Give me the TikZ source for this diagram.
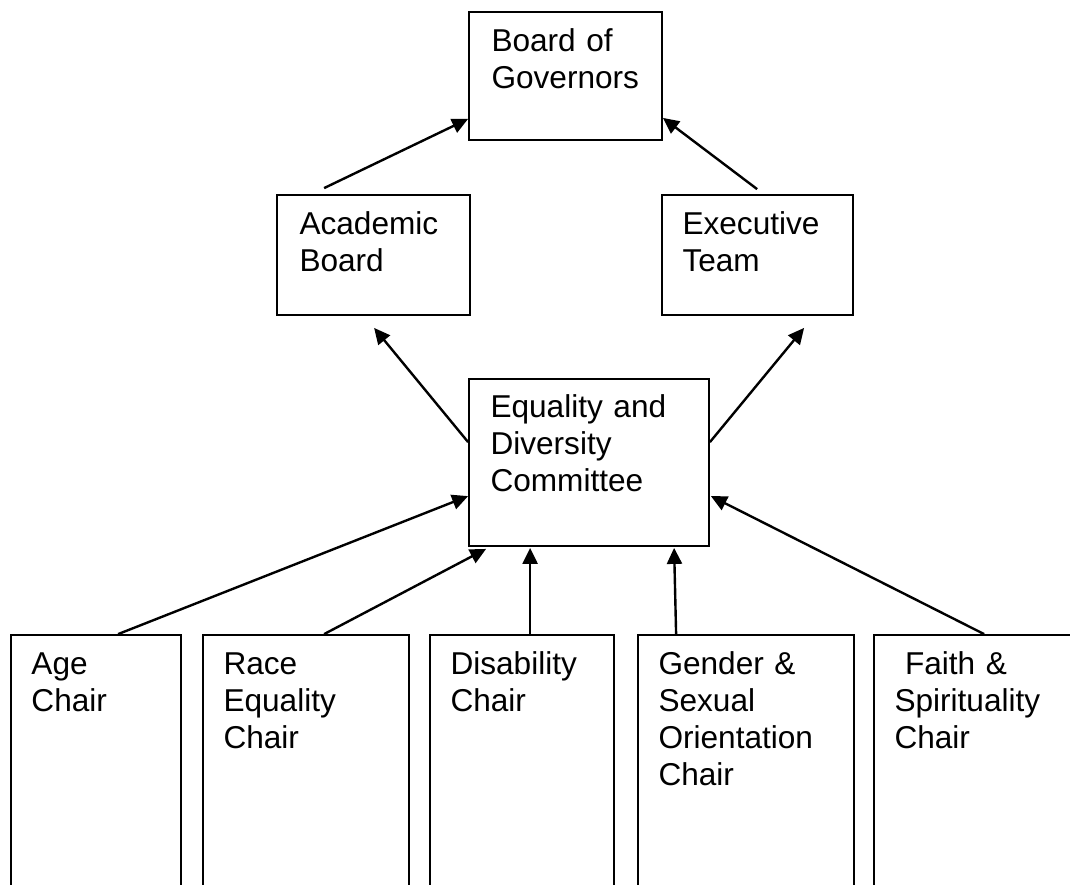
\documentclass[tikz,border=0pt]{standalone}
\usepackage{fontspec}
\setmainfont{Liberation Sans}
\usetikzlibrary{arrows.meta, fit}
\tikzset{
  arr/.style={-{Triangle[length=8pt, width=7.5pt]}, line width=1.2pt, black},
  chartbox/.style={rectangle, draw=black, line width=0.9pt, inner sep=0pt},
  boxtext/.style={anchor=base west, inner sep=0pt, text width=4cm, align=left, text=black},
}

\begin{document}
\begin{tikzpicture}[x=0.5pt, y=-0.5pt, font=\fontsize{15.8}{18.5}\selectfont]
  \useasboundingbox (0,0) rectangle (1070,884);
  \clip (0,0) rectangle (1070,884);

  % Governing bodies
  \node[chartbox, fit={(469,12) (662,140)}] (bog) {};
  \node[chartbox, fit={(277,195) (470,315)}] (acad) {};
  \node[chartbox, fit={(662,195) (853,315)}] (exec) {};
  \node[chartbox, fit={(469,379) (709,546)}] (edc) {};
  % Chairs (run off the bottom of the page)
  \node[chartbox, fit={(11,635) (181,1000)}] (age) {};
  \node[chartbox, fit={(203,635) (409,1000)}] (race) {};
  \node[chartbox, fit={(430,635) (614,1000)}] (dis) {};
  \node[chartbox, fit={(638,635) (854,1000)}] (gend) {};
  \node[chartbox, fit={(874,635) (1100,1000)}] (faith) {};

  \node[boxtext] (bog-t) at ([shift={(23,40)}]bog.north west) {Board of\\Governors};
  \node[boxtext] (acad-t) at ([shift={(23,40)}]acad.north west) {Academic\\Board};
  \node[boxtext] (exec-t) at ([shift={(21,40)}]exec.north west) {Executive\\Team};
  \node[boxtext] (edc-t) at ([shift={(22,39)}]edc.north west) {Equality and\\Diversity\\Committee};
  \node[boxtext] (age-t) at ([shift={(21,40)}]age.north west) {Age\\Chair};
  \node[boxtext] (race-t) at ([shift={(21,40)}]race.north west) {Race\\Equality\\Chair};
  \node[boxtext] (dis-t) at ([shift={(21,40)}]dis.north west) {Disability\\Chair};
  \node[boxtext] (gend-t) at ([shift={(21,40)}]gend.north west) {Gender \&\\Sexual\\Orientation\\Chair};
  \node[boxtext] (faith-t) at ([shift={(21,40)}]faith.north west) {\ Faith \&\\Spirituality\\Chair};

  % Reporting lines
  \draw[arr] ([shift={(48,-6)}]acad.north west) -- ([shift={(0,-22)}]bog.south west);
  \draw[arr] ([shift={(96,-5)}]exec.north west) -- ([shift={(0,-23)}]bog.south east);
  \draw[arr] ([shift={(0,64)}]edc.north west) -- ([shift={(98,12)}]acad.south west);
  \draw[arr] ([shift={(0,64)}]edc.north east) -- ([shift={(143,12)}]exec.south west);

  \draw[arr] ([shift={(108,0)}]age.north west) -- ([shift={(0,118)}]edc.north west);
  \draw[arr] ([shift={(122,0)}]race.north west) -- ([shift={(18,2)}]edc.south west);
  \draw[arr] ([shift={(101,0)}]dis.north west) -- ([shift={(62,1)}]edc.south west);
  \draw[arr] ([shift={(39,0)}]gend.north west) -- ([shift={(206,1)}]edc.south west);
  \draw[arr] ([shift={(111,0)}]faith.north west) -- ([shift={(1,118)}]edc.north east);
\end{tikzpicture}
\end{document}
